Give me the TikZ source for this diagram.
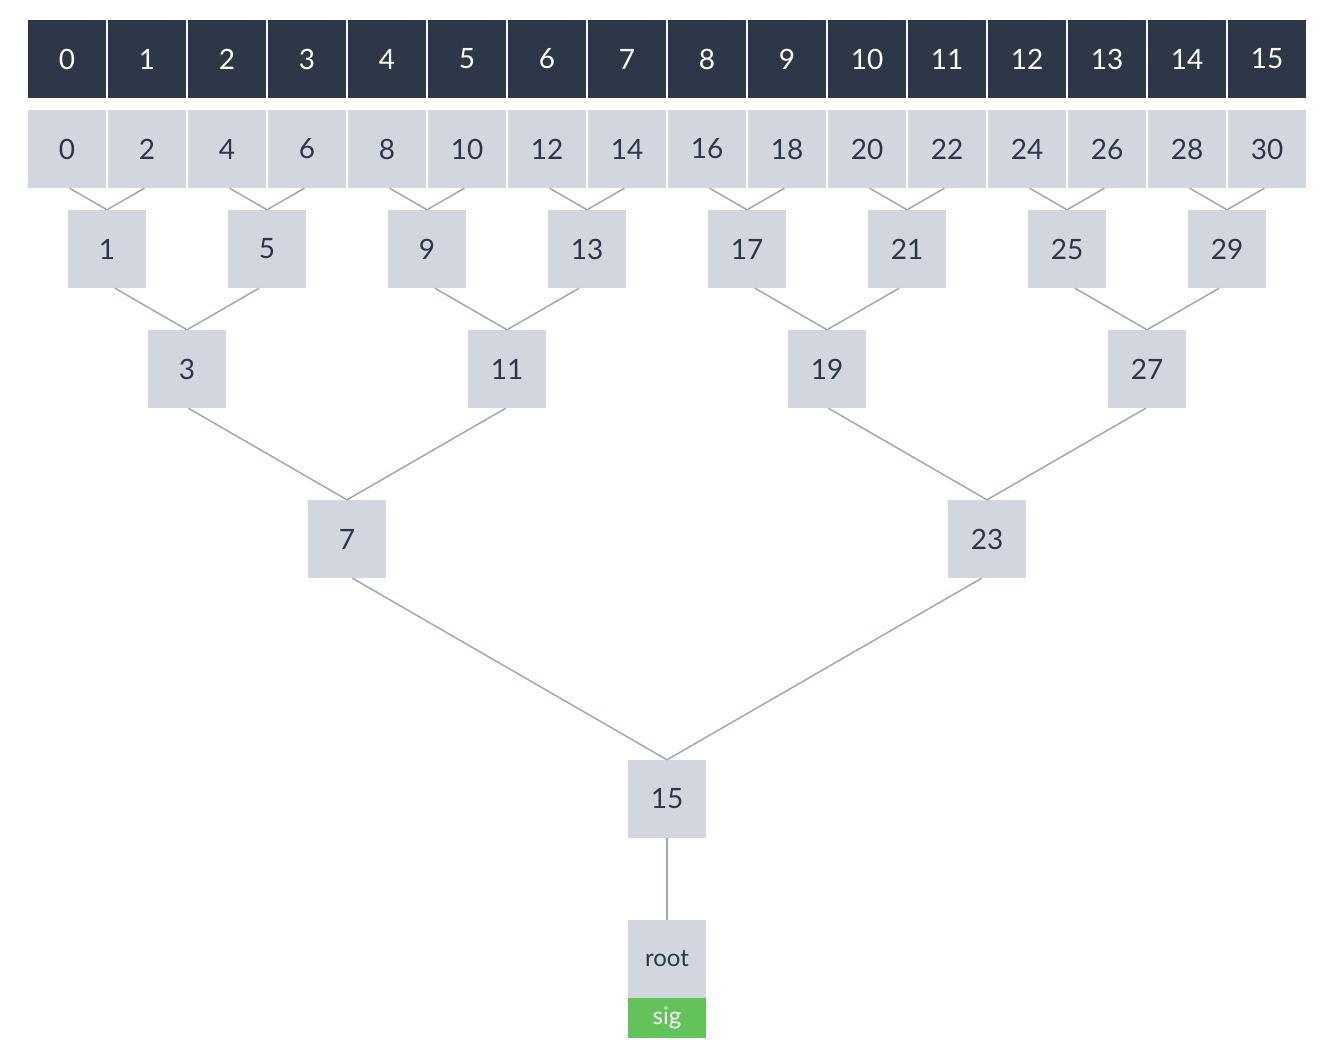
\documentclass[tikz,border=0pt]{standalone}
\usepackage{fontspec}
\setmainfont{Lato}
\usepackage{tikz}
\usetikzlibrary{positioning}
\definecolor{slate}{HTML}{2D3748}
\definecolor{hashgray}{HTML}{D2D6DF}
\definecolor{edgegray}{HTML}{9FA7B7}
\definecolor{siggreen}{HTML}{62C35B}

\begin{document}
\begin{tikzpicture}[x=1pt, y=-1pt,
  leaf/.style={fill=slate, text=white, minimum width=78pt, minimum height=78pt,
               inner sep=0pt, font=\fontsize{28}{32}\selectfont},
  hnode/.style={fill=hashgray, text=slate, minimum width=78pt, minimum height=78pt,
                inner sep=0pt, font=\fontsize{28}{32}\selectfont},
  signode/.style={fill=siggreen, text=white, minimum width=78pt, minimum height=40pt,
                  inner sep=0pt, font=\fontsize{24}{28}\selectfont},
  link/.style={draw=edgegray, line width=1.5pt}
]
  \useasboundingbox (0,0) rectangle (1334,1054);

  % data blocks (top row)
  \foreach \i in {0,...,15}
    \node[leaf] (t\i) at ({67+80*\i},59) {\i};

  % leaf hashes
  \foreach \i [evaluate=\i as \v using int(2*\i)] in {0,...,15}
    \node[hnode] (n\v) at ({67+80*\i},149) {\v};

  % inner levels
  \foreach \j [evaluate=\j as \v using int(1+4*\j)] in {0,...,7}
    \node[hnode] (n\v) at ({107+160*\j},249) {\v};
  \foreach \j [evaluate=\j as \v using int(3+8*\j)] in {0,...,3}
    \node[hnode] (n\v) at ({187+320*\j},369) {\v};
  \foreach \j [evaluate=\j as \v using int(7+16*\j)] in {0,1}
    \node[hnode] (n\v) at ({347+640*\j},539) {\v};
  \node[hnode] (n15) at (667,799) {15};

  % root and signature
  \node[hnode, font=\fontsize{24}{28}\selectfont] (root) at (667,959) {root};
  \node[signode, below=0pt of root] (sig) {sig};

  % connectors, all at 30 degrees into the parent's top
  \foreach \v/\d in {1/1,5/1,9/1,13/1,17/1,21/1,25/1,29/1,
                     3/2,11/2,19/2,27/2,7/4,23/4,15/8} {
    \pgfmathtruncatemacro\lc{\v-\d}
    \pgfmathtruncatemacro\rc{\v+\d}
    \path (n\v.north) ++(150:20) coordinate (up-l) (n\v.north) ++(30:20) coordinate (up-r);
    \draw[link] (intersection of n\v.north--up-l and n\lc.south west--n\lc.south east)
      -- (n\v.north);
    \draw[link] (intersection of n\v.north--up-r and n\rc.south west--n\rc.south east)
      -- (n\v.north);
  }
  \draw[link] (n15) -- (root);
\end{tikzpicture}
\end{document}
